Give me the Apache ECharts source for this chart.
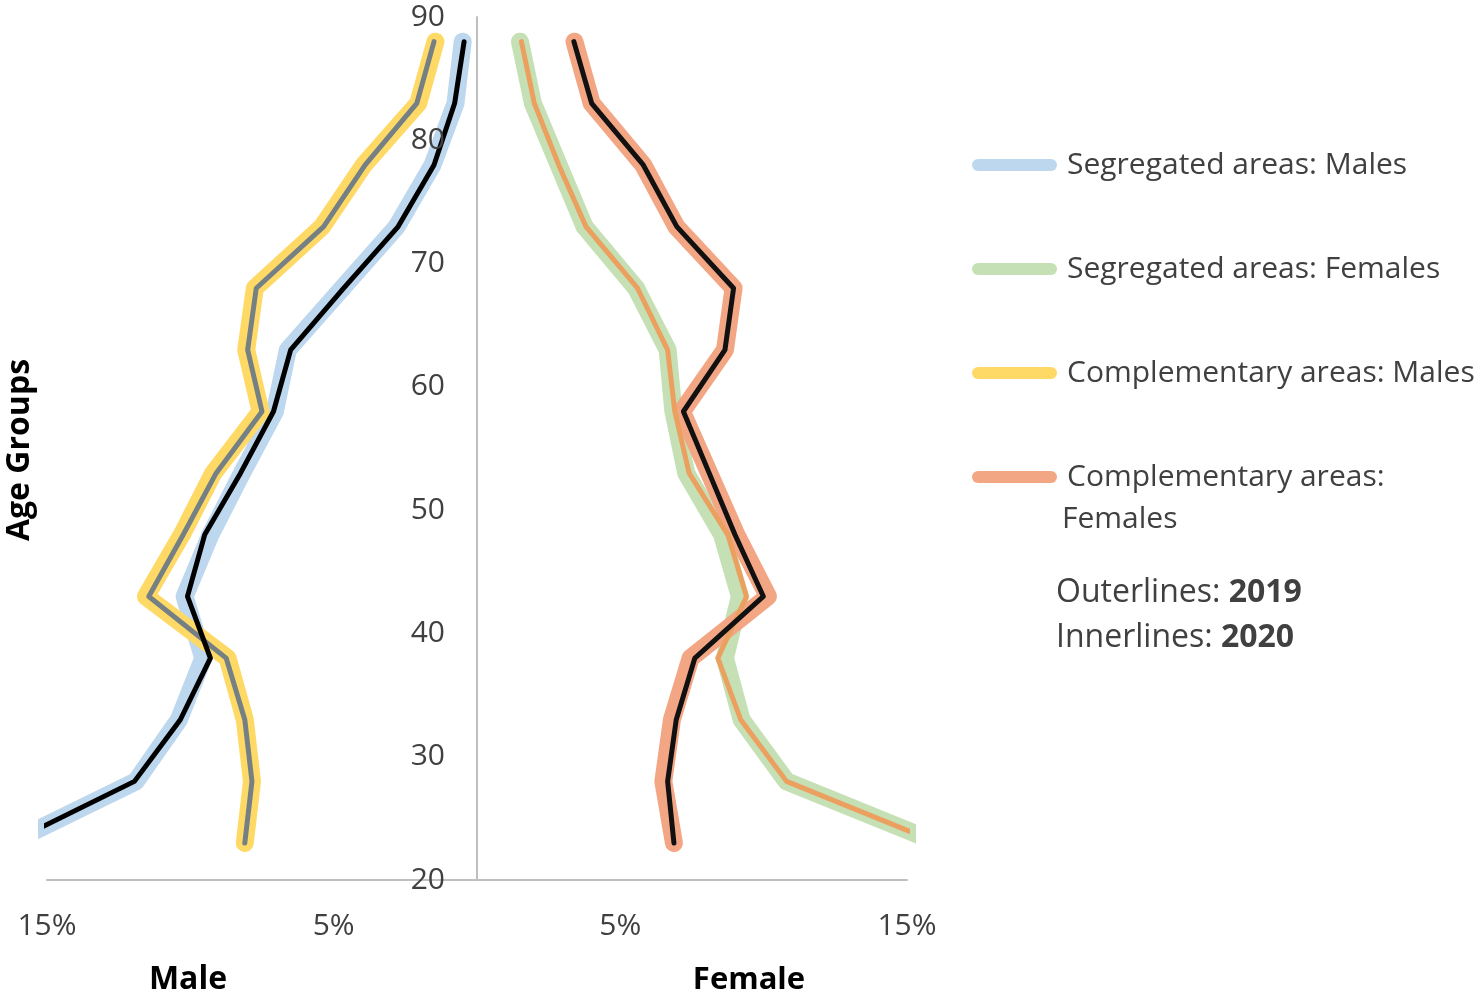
<!DOCTYPE html>
<html lang="en">
<head>
<meta charset="utf-8">
<script src="https://cdn.jsdelivr.net/npm/echarts@6/dist/echarts.min.js"></script>
<style>
    html, body {margin: 0; padding: 0; background: #fff;}
    #chart {width: 1477px; height: 999px;}
</style>
</head>
<body>
<div id="chart"></div>
<script>
    // age group midpoints (y axis)
    var ages = [23, 28, 33, 38, 43, 48, 53, 58, 63, 68, 73, 78, 83, 88];

    // share of population, %  (males drawn to the left)
    var segMale2019   = [16.3, 11.9, 10.4, 9.55, 10.2, 9.3, 8.2, 7.05, 6.6, 4.7, 2.8, 1.55, 0.75, 0.5];
    var segMale2020   = [16.3, 11.95, 10.35, 9.3, 10.1, 9.5, 8.25, 7.1, 6.5, 4.65, 2.75, 1.5, 0.78, 0.45];
    var compMale2019  = [8.1, 7.85, 8.1, 8.7, 11.55, 10.3, 9.2, 7.55, 8.05, 7.75, 5.4, 3.95, 2.05, 1.45];
    var compMale2020  = [8.1, 7.85, 8.1, 8.75, 11.45, 10.25, 9.1, 7.5, 8.0, 7.7, 5.35, 3.9, 2.1, 1.5];

    var segFemale2019  = [16.1, 10.8, 9.23, 8.65, 9.17, 8.55, 7.3, 6.85, 6.65, 5.55, 3.75, 2.85, 1.95, 1.5];
    var segFemale2020  = [16.1, 10.8, 9.2, 8.4, 9.4, 8.75, 7.4, 6.9, 6.65, 5.6, 3.8, 2.85, 2.0, 1.55];
    var compFemale2019 = [6.87, 6.5, 6.8, 7.45, 10.15, 9.05, 8.1, 7.15, 8.65, 8.95, 6.95, 5.8, 4.0, 3.4];
    var compFemale2020 = [6.87, 6.65, 6.95, 7.6, 9.99, 9.0, 8.1, 7.2, 8.65, 8.95, 6.97, 5.8, 4.0, 3.38];

    var xTicks = [-15, -5, 5, 15];
    var yTicks = [20, 30, 40, 50, 60, 70, 80, 90];

    var FONT = '"Open Sans", "Noto Sans", sans-serif';
    var TXT = '#404040';
    var pill = 'path://M6,0 L79,0 A6,6 0 0 1 79,12 L6,12 A6,6 0 0 1 6,0 Z';

    function pairs(vals, side) {
        return ages.map(function (a, i) { return [side * vals[i], a]; });
    }

    function line(name, vals, side, color, width) {
        return {
            name: name,
            type: 'line',
            data: pairs(vals, side),
            symbol: 'none',
            itemStyle: {color: color},
            lineStyle: {color: color, width: width, cap: 'round', join: 'round'},
            emphasis: {disabled: true},
            silent: true
        };
    }

    function legendAt(top, name, color, extra) {
        var l = {
            left: 972,
            top: top,
            padding: 0,
            orient: 'vertical',
            itemWidth: 85,
            itemHeight: 13,
            icon: pill,
            data: [{name: name, itemStyle: {color: color}}],
            selectedMode: false,
            textStyle: {fontFamily: FONT, fontSize: 30, color: TXT, padding: [0, 0, 0, 5]}
        };
        if (extra) {
            for (var k in extra) l[k] = extra[k];
        }
        return l;
    }

    var chart = echarts.init(document.getElementById('chart'));

    chart.setOption({
        animation: false,
        backgroundColor: '#fff',
        grid: {left: 47, right: 570, top: 17, bottom: 119, containLabel: false, outerBoundsMode: 'none'},
        xAxis: {
            type: 'value',
            min: -15,
            max: 15,
            interval: 5,
            axisLine: {onZero: false, lineStyle: {color: '#BFBFBF', width: 2}},
            axisTick: {show: false},
            splitLine: {show: false},
            axisLabel: {
                margin: 31,
                fontFamily: FONT,
                fontSize: 30,
                color: TXT,
                formatter: function (v) {
                    return xTicks.indexOf(v) >= 0 ? Math.abs(v) + '%' : '';
                }
            }
        },
        yAxis: {
            type: 'value',
            position: 'left',
            offset: -430,
            z: 5,
            min: 20,
            max: 90,
            interval: 10,
            axisLine: {show: true, onZero: false, lineStyle: {color: '#BFBFBF', width: 2}},
            axisTick: {show: false},
            splitLine: {show: false},
            axisLabel: {
                margin: 32,
                fontFamily: FONT,
                fontSize: 30,
                color: TXT,
                formatter: function (v) {
                    return yTicks.indexOf(v) >= 0 ? String(v) : '';
                }
            }
        },
        legend: [
            legendAt(150, 'Segregated areas: Males', '#BDD7EE'),
            legendAt(254, 'Segregated areas: Females', '#C5E0B4'),
            legendAt(358, 'Complementary areas: Males', '#FFD966'),
            legendAt(462, 'Complementary areas: Females', '#F3A684', {
                formatter: function () {
                    return '{a|Complementary areas:}\n{b|Females}';
                },
                textStyle: {
                    fontFamily: FONT, fontSize: 30, color: TXT,
                    padding: [42, 0, 0, 0],
                    rich: {
                        a: {fontFamily: FONT, fontSize: 30, color: TXT, lineHeight: 42, padding: [0, 0, 0, 5]},
                        b: {fontFamily: FONT, fontSize: 30, color: TXT, lineHeight: 42}
                    }
                }
            })
        ],
        graphic: [
            {
                type: 'text', x: 20, y: 450, rotation: Math.PI / 2,
                style: {text: 'Age Groups', fontFamily: FONT, fontSize: 32, fontWeight: 'bold',
                    fill: '#000', align: 'center', verticalAlign: 'middle'}
            },
            {
                type: 'text', x: 188, y: 980,
                style: {text: 'Male', fontFamily: FONT, fontSize: 32, fontWeight: 'bold',
                    fill: '#000', align: 'center', verticalAlign: 'middle'}
            },
            {
                type: 'text', x: 749, y: 980,
                style: {text: 'Female', fontFamily: FONT, fontSize: 31, fontWeight: 'bold',
                    fill: '#000', align: 'center', verticalAlign: 'middle'}
            },
            {
                type: 'text', x: 1056, y: 593,
                style: {
                    text: '{n|Outerlines: }{b|2019}', verticalAlign: 'middle',
                    rich: {
                        n: {fontFamily: FONT, fontSize: 32, fill: TXT},
                        b: {fontFamily: FONT, fontSize: 32, fontWeight: 'bold', fill: TXT}
                    }
                }
            },
            {
                type: 'text', x: 1056, y: 638,
                style: {
                    text: '{n|Innerlines: }{b|2020}', verticalAlign: 'middle',
                    rich: {
                        n: {fontFamily: FONT, fontSize: 32, fill: TXT},
                        b: {fontFamily: FONT, fontSize: 32, fontWeight: 'bold', fill: TXT}
                    }
                }
            }
        ],
        series: [
            // outer lines, 2019
            line('Segregated areas: Males', segMale2019, -1, '#BDD7EE', 18),
            line('Complementary areas: Males', compMale2019, -1, '#FFD966', 18),
            line('Segregated areas: Females', segFemale2019, 1, '#C5E0B4', 18),
            line('Complementary areas: Females', compFemale2019, 1, '#F3A684', 18),
            // inner lines, 2020
            line('Complementary areas: Males 2020', compMale2020, -1, '#748083', 5),
            line('Segregated areas: Females 2020', segFemale2020, 1, '#EBA060', 5),
            line('Segregated areas: Males 2020', segMale2020, -1, '#000000', 5),
            line('Complementary areas: Females 2020', compFemale2020, 1, '#111111', 5)
        ]
    });
</script>
</body>
</html>
